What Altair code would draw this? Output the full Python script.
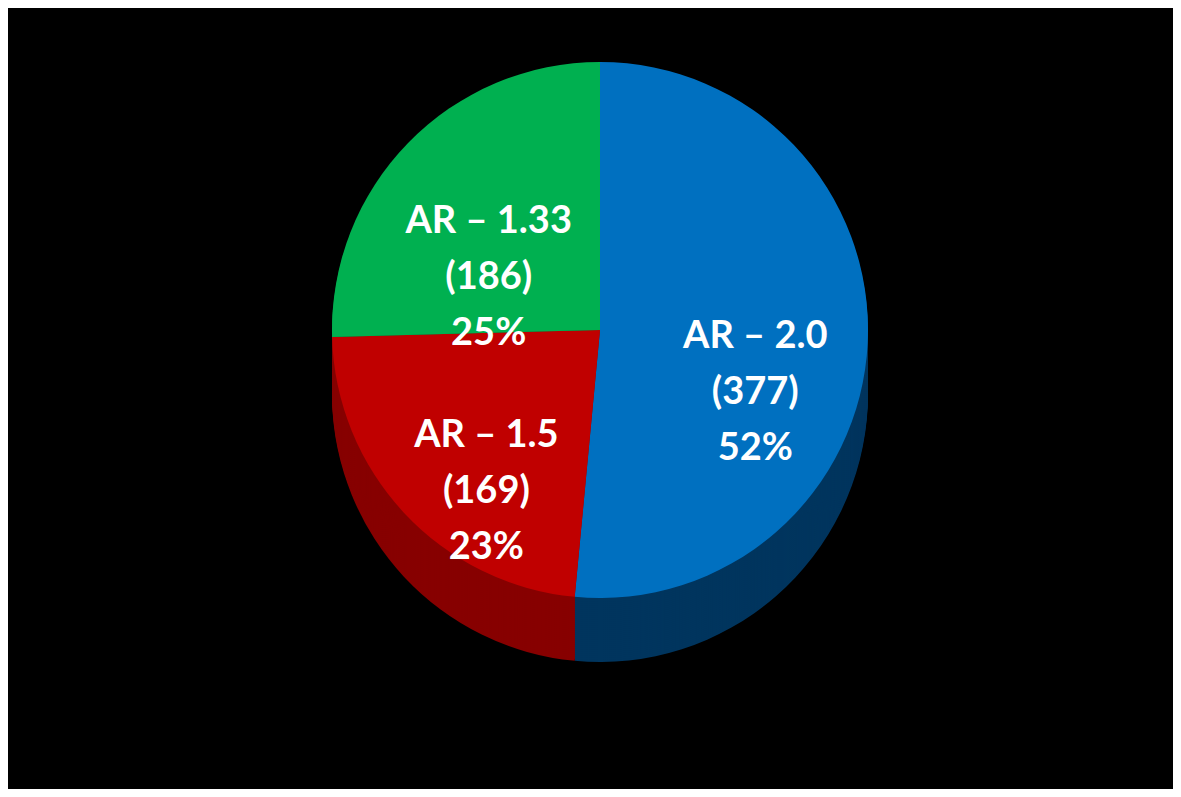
import altair as alt
import pandas as pd

labels = ["AR – 2.0", "AR – 1.5", "AR – 1.33"]
counts = [377, 169, 186]
percents = ["52%", "23%", "25%"]
top_colors = ["#0070C0", "#C00000", "#00B050"]
side_colors = ["#00355E", "#870000", "#006B30"]
order = [0, 1, 2]

df = pd.DataFrame({
    "label": labels,
    "count": counts,
    "pct": percents,
    "top": top_colors,
    "side": side_colors,
    "order": order,
})
df["text"] = [f"{l}\n({c})\n{p}" for l, c, p in zip(labels, counts, percents)]

W, H = 1165, 781
cx, cy = 592, 322
R = 268
depth = 64

base = alt.Chart(df)
theta = alt.Theta("count:Q", stack=True)

layers = []
for k in range(depth, 0, -2):
    layers.append(
        base.mark_arc(radius=R, strokeWidth=0).encode(
            theta=theta,
            color=alt.Color("side:N", scale=None),
            order=alt.Order("order:Q"),
            x=alt.value(cx),
            y=alt.value(cy + k),
        )
    )

top = base.mark_arc(radius=R, strokeWidth=0).encode(
    theta=theta,
    color=alt.Color("top:N", scale=None),
    order=alt.Order("order:Q"),
    x=alt.value(cx),
    y=alt.value(cy),
)

text = base.mark_text(
    radius=R * 0.58, fontSize=38, fontWeight="bold", color="white",
    lineBreak="\n", font="Lato", lineHeight=56, baseline="middle",
).encode(
    theta=theta,
    text="text:N",
    order=alt.Order("order:Q"),
    x=alt.value(cx),
    y=alt.value(cy),
)

chart = alt.layer(*layers, top, text).properties(
    width=W, height=H, background="black", padding=0,
    autosize=alt.AutoSizeParams(type="fit", contains="padding"),
).configure_view(stroke=None)

chart.save("out.html", embed_options={"renderer": "svg", "actions": False})
